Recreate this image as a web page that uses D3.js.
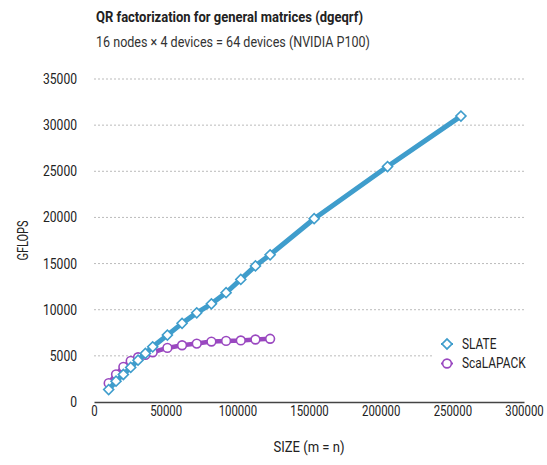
<!DOCTYPE html>
<html>
<head>
<meta charset="utf-8">
<script src="https://cdn.jsdelivr.net/npm/d3@7"></script>
<style>
  body { margin: 0; background: #fff; }
  svg text { font-family: Roboto, "Noto Sans", sans-serif; fill: #222; }
</style>
</head>
<body>
<div id="chart"></div>
<script>
// tamaños de matriz (m = n)
const sizes = [10240, 15360, 20480, 25600, 30720, 35840, 40960, 51200, 61440, 71680,
               81920, 92160, 102400, 112640, 122880, 153600, 204800, 256000];
// GFLOPS
const slateValues = [1350, 2250, 2980, 3740, 4530, 5260, 5980, 7250, 8520, 9660,
                     10640, 11840, 13280, 14750, 15950, 19860, 25510, 30980];
const scalapackValues = [2040, 3000, 3800, 4450, 4850, 5100, 5390, 5860, 6150, 6330,
                         6550, 6620, 6670, 6770, 6850];
const yTicks = [0, 5000, 10000, 15000, 20000, 25000, 30000, 35000];
const xTicks = [0, 50000, 100000, 150000, 200000, 250000, 300000];

const title = "QR factorization for general matrices (dgeqrf)";
const subtitle = "16 nodes \u00d7 4 devices = 64 devices (NVIDIA P100)";

// la fuente original es condensada: se comprime el texto horizontalmente
const FACTOR = 0.85;
function condensar(sel, ancho) {
  sel.each(function() {
    const w = ancho || this.getComputedTextLength() * FACTOR;
    d3.select(this)
      .attr("textLength", w)
      .attr("lengthAdjust", "spacingAndGlyphs");
  });
}

function dibujar() {
  const ancho = 547, alto = 465;
  const m = { left: 94, right: 23, top: 79, bottom: 63 };

  const svg = d3.select("#chart").append("svg")
      .attr("width", ancho)
      .attr("height", alto);

  const x = d3.scaleLinear().domain([0, 300000]).range([m.left, ancho - m.right]);
  const y = d3.scaleLinear().domain([0, 35000]).range([alto - m.bottom, m.top]);

  // titulos
  svg.append("text")
      .attr("x", 96).attr("y", 22)
      .style("font-size", "14.5px").style("font-weight", "bold")
      .text(title)
      .call(condensar, 267);

  svg.append("text")
      .attr("x", 96).attr("y", 47)
      .style("font-size", "14.5px").style("fill", "#333")
      .text(subtitle)
      .call(condensar, 274);

  // rejilla punteada
  svg.append("g").selectAll("line")
      .data(yTicks.filter(d => d > 0))
      .join("line")
      .attr("x1", x(0)).attr("x2", x(300000))
      .attr("y1", d => y(d)).attr("y2", d => y(d))
      .attr("stroke", "#bbb")
      .attr("stroke-width", 1)
      .attr("stroke-dasharray", "2,2");

  // eje x
  const ejeX = svg.append("g")
      .attr("transform", `translate(0,${y(0)})`)
      .call(d3.axisBottom(x).tickValues(xTicks).tickSize(0).tickPadding(4).tickFormat(d3.format("d")));
  ejeX.select(".domain").attr("stroke", "#444").attr("stroke-width", 1.5);
  ejeX.selectAll("text").style("font-size", "14px").attr("fill", "#222")
      .each(function(d) { condensar(d3.select(this), 6.4 * String(d).length); });

  // eje y
  const ejeY = svg.append("g")
      .attr("transform", `translate(${x(0) - 17},0)`)
      .call(d3.axisLeft(y).tickValues(yTicks).tickSize(0).tickPadding(0).tickFormat(d3.format("d")));
  ejeY.select(".domain").remove();
  ejeY.selectAll("text").style("font-size", "14px").attr("fill", "#222")
      .each(function(d) { condensar(d3.select(this), 6.8 * String(d).length); });

  // titulos de ejes
  svg.append("text")
      .attr("x", (x(0) + x(300000)) / 2).attr("y", 452)
      .attr("text-anchor", "middle")
      .style("font-size", "14.5px")
      .text("SIZE (m = n)")
      .call(condensar, 71);
  svg.append("text")
      .attr("transform", `translate(28,${(y(0) + y(35000)) / 2}) rotate(-90)`)
      .attr("text-anchor", "middle")
      .style("font-size", "14.5px")
      .text("GFLOPS")
      .call(condensar, 40);

  const series = [
    { nombre: "SLATE", valores: slateValues, color: "#3f9dcc", ancho: 5, marca: "diamond" },
    { nombre: "ScaLAPACK", valores: scalapackValues, color: "#9a48c0", ancho: 4.5, marca: "circle" }
  ];

  const linea = d3.line().x(d => x(d[0])).y(d => y(d[1]));
  const simbolo = {
    diamond: d3.symbol().type(d3.symbolSquare).size(50),
    circle: d3.symbol().type(d3.symbolCircle).size(60)
  };

  // ScaLAPACK debajo, SLATE encima
  series.slice().reverse().forEach(s => {
    const pts = s.valores.map((v, i) => [sizes[i], v]);
    svg.append("path")
        .datum(pts)
        .attr("fill", "none")
        .attr("stroke", s.color)
        .attr("stroke-width", s.ancho)
        .attr("stroke-linejoin", "round")
        .attr("d", linea);
    svg.append("g").selectAll("path")
        .data(pts)
        .join("path")
        .attr("transform", d => `translate(${x(d[0])},${y(d[1])})` + (s.marca === "diamond" ? " rotate(45)" : ""))
        .attr("d", simbolo[s.marca])
        .attr("fill", "#fff")
        .attr("stroke", s.color)
        .attr("stroke-width", 1.6);
  });

  // leyenda
  const ley = svg.append("g").attr("transform", "translate(433,333)");
  ley.append("rect").attr("width", 108).attr("height", 42).attr("fill", "#fff");
  series.forEach((s, i) => {
    const g = ley.append("g").attr("transform", `translate(0,${11 + i * 19.5})`);
    g.append("line").attr("x1", 8).attr("x2", 20)
        .attr("stroke", s.color).attr("stroke-width", 2);
    g.append("path")
        .attr("transform", `translate(14,0)` + (s.marca === "diamond" ? " rotate(45)" : ""))
        .attr("d", simbolo[s.marca])
        .attr("fill", "#fff")
        .attr("stroke", s.color)
        .attr("stroke-width", 1.6);
    g.append("text").attr("x", 29).attr("dy", "0.35em")
        .style("font-size", "14px")
        .text(s.nombre)
        .call(condensar);
  });
}

dibujar();
</script>
</body>
</html>
